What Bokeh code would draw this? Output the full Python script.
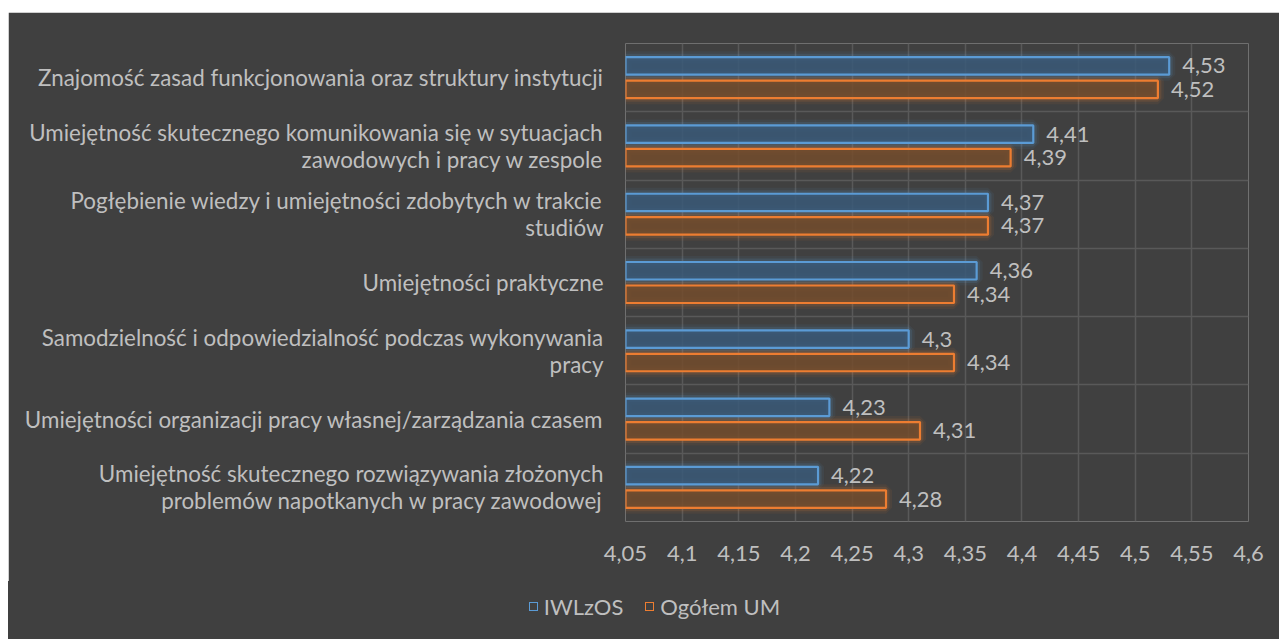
from bokeh.plotting import figure
from bokeh.models import (ColumnDataSource, FactorRange, Range1d, FixedTicker,
                          Spacer, Div)
from bokeh.layouts import column, row
from bokeh.transform import dodge
from bokeh.core.properties import value
from bokeh.embed import file_html
from bokeh.resources import INLINE

categories = [
    "Znajomość zasad funkcjonowania oraz struktury instytucji",
    "Umiejętność skutecznego komunikowania się w sytuacjach\nzawodowych i pracy w zespole",
    "Pogłębienie wiedzy i umiejętności zdobytych w trakcie\nstudiów",
    "Umiejętności praktyczne",
    "Samodzielność i odpowiedzialność podczas wykonywania\npracy",
    "Umiejętności organizacji pracy własnej/zarządzania czasem",
    "Umiejętność skutecznego rozwiązywania złożonych\nproblemów napotkanych w pracy zawodowej",
]
iwlzos = [4.53, 4.41, 4.37, 4.36, 4.30, 4.23, 4.22]
ogolem = [4.52, 4.39, 4.37, 4.34, 4.34, 4.31, 4.28]
series_names = ["IWLzOS", "Ogółem UM"]
ticks = [4.05, 4.10, 4.15, 4.20, 4.25, 4.30, 4.35, 4.40, 4.45, 4.50, 4.55, 4.60]
tick_labels = ["4,05", "4,1", "4,15", "4,2", "4,25", "4,3", "4,35", "4,4",
               "4,45", "4,5", "4,55", "4,6"]

def fmt(v):
    return ("%g" % v).replace(".", ",")

src = ColumnDataSource(dict(
    cat=categories, iw=iwlzos, og=ogolem,
    iw_lbl=[fmt(v) for v in iwlzos], og_lbl=[fmt(v) for v in ogolem],
))

BG = "#404040"
TXT = "#bfbfbf"
FONT = "Lato"
FS = "22px"
BLUE = "#5b9bd5"
ORANGE = "#ed7d31"
BLUE_FILL = "#3a5978"
ORANGE_FILL = "#734c2d"

p = figure(frame_width=623, frame_height=478, output_backend="svg", toolbar_location=None,
           y_range=FactorRange(factors=list(reversed(categories)), range_padding=0),
           x_range=Range1d(ticks[0], ticks[-1]),
           min_border_left=617, min_border_right=31, min_border_top=31,
           min_border_bottom=60)
p.background_fill_color = BG
p.border_fill_color = BG
p.outline_line_color = None

off = 0.172
h = 0.256
yb = dodge("cat", off, range=p.y_range)
yo = dodge("cat", -off, range=p.y_range)

# glow
for w, a in [(12, 0.07), (7, 0.14)]:
    p.hbar(y=yb, left=ticks[0], right="iw", height=h, source=src,
           fill_alpha=0, line_color=BLUE, line_width=w, line_alpha=a)
    p.hbar(y=yo, left=ticks[0], right="og", height=h, source=src,
           fill_alpha=0, line_color=ORANGE, line_width=w, line_alpha=a)

p.hbar(y=yb, left=ticks[0], right="iw", height=h, source=src,
       fill_color=BLUE_FILL, fill_alpha=0.85, line_color=BLUE, line_width=2.2)
p.hbar(y=yo, left=ticks[0], right="og", height=h, source=src,
       fill_color=ORANGE_FILL, fill_alpha=0.85, line_color=ORANGE, line_width=2.2)

p.text(x="iw", y=yb, text="iw_lbl", source=src, x_offset=13,
       text_baseline="middle", text_align="left", text_color=TXT,
       text_font=value(FONT), text_font_size=FS)
p.text(x="og", y=yo, text="og_lbl", source=src, x_offset=13,
       text_baseline="middle", text_align="left", text_color=TXT,
       text_font=value(FONT), text_font_size=FS)

# grids
p.xgrid.ticker = FixedTicker(ticks=ticks)
p.xgrid.grid_line_color = "#595959"
p.xgrid.grid_line_width = 1.5
p.ygrid.ticker = FixedTicker(ticks=list(range(len(categories) + 1)))
p.ygrid.grid_line_color = "#595959"
p.ygrid.grid_line_width = 1.5

# axes
p.xaxis.ticker = FixedTicker(ticks=ticks)
p.xaxis.major_label_overrides = {t: l for t, l in zip(ticks, tick_labels)}
p.xaxis.axis_line_color = None
p.xaxis.major_tick_line_color = None
p.xaxis.minor_tick_line_color = None
p.xaxis.major_tick_out = 0
p.xaxis.major_label_standoff = 24
p.xaxis.major_label_text_color = TXT
p.xaxis.major_label_text_font = FONT
p.xaxis.major_label_text_font_size = FS

p.yaxis.axis_line_color = None
p.yaxis.major_tick_line_color = None
p.yaxis.major_tick_out = 0
p.yaxis.major_label_standoff = 22
p.yaxis.major_label_text_color = TXT
p.yaxis.major_label_text_font = FONT
p.yaxis.major_label_text_font_size = "22.4px"
p.yaxis.major_label_text_line_height = 1.0

# legend strip below the chart
items_html = []
for name, col in zip(series_names, [BLUE, ORANGE]):
    items_html.append(
        '<span style="display:inline-flex;align-items:center;margin:0 11px;">'
        '<span style="display:inline-block;width:9px;height:9px;'
        'border:1.5px solid %s;margin-right:6px;"></span>%s</span>' % (col, name))
legend_html = (
    '<div style="width:1271px;height:58px;background:%s;display:flex;'
    'align-items:center;justify-content:center;box-sizing:border-box;'
    'padding-left:22px;padding-bottom:6px;font-family:Lato;font-size:22px;'
    'color:%s;">%s</div>' % (BG, TXT, "".join(items_html)))
legend_div = Div(text=legend_html, width=1271, height=58,
                 styles={"background-color": BG, "margin": "0"})

layout = column(Spacer(height=12), row(Spacer(width=8), column(p, legend_div)))
open("out.html", "w").write(file_html(layout, INLINE))
